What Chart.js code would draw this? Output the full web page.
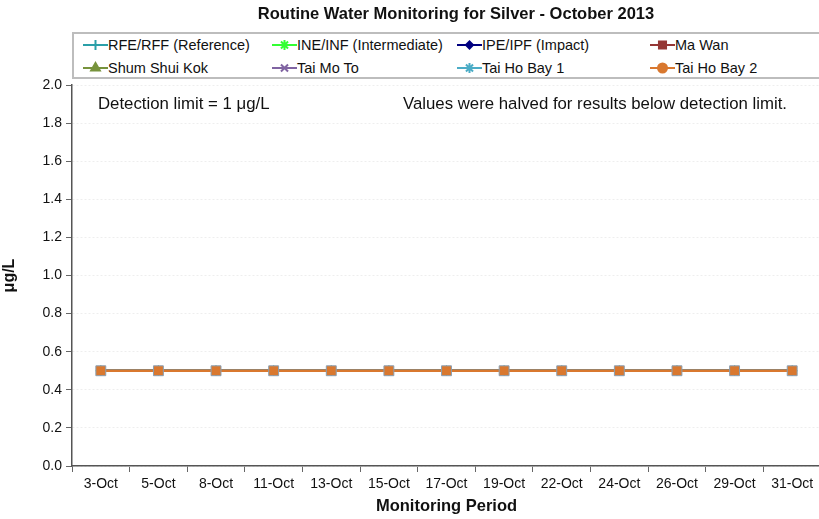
<!DOCTYPE html>
<html>
<head>
<meta charset="utf-8">
<script src="https://cdn.jsdelivr.net/npm/chart.js@4.4.0/dist/chart.umd.min.js"></script>
<style>
  html, body { margin: 0; padding: 0; background: #fff; overflow: hidden; }
  body { width: 819px; height: 519px; position: relative; font-family: "Liberation Sans", Arial, sans-serif; }
  #wrap { position: absolute; left: 0; top: 0; width: 829px; height: 519px; }
  #title { position: absolute; left: 0; width: 912px; top: 4px; text-align: center; font-weight: bold; font-size: 16.5px; color: #111; }
  #legend { position: absolute; left: 72px; top: 32px; width: 760px; height: 47px; border: 2px solid #bdbdbd; box-sizing: border-box; background: #fff; }
  .item { position: absolute; font-size: 14.5px; color: #111; white-space: nowrap; display: flex; align-items: center; }
  .note { position: absolute; top: 94px; font-size: 16.8px; color: #111; white-space: nowrap; }
</style>
</head>
<body>
<div id="wrap"><canvas id="chart" width="829" height="519"></canvas></div>
<div id="title">Routine Water Monitoring for Silver - October 2013</div>
<div id="legend"></div>
<div class="note" style="left:98px">Detection limit = 1 μg/L</div>
<div class="note" style="left:403px">Values were halved for results below detection limit.</div>
<script>
// monitoring dates
const dates = ['3-Oct', '5-Oct', '8-Oct', '11-Oct', '13-Oct', '15-Oct', '17-Oct', '19-Oct', '22-Oct', '24-Oct', '26-Oct', '29-Oct', '31-Oct'];

// silver results (ug/L), all half of detection limit
const rfeRff      = [0.5, 0.5, 0.5, 0.5, 0.5, 0.5, 0.5, 0.5, 0.5, 0.5, 0.5, 0.5, 0.5];
const ineInf      = [0.5, 0.5, 0.5, 0.5, 0.5, 0.5, 0.5, 0.5, 0.5, 0.5, 0.5, 0.5, 0.5];
const ipeIpf      = [0.5, 0.5, 0.5, 0.5, 0.5, 0.5, 0.5, 0.5, 0.5, 0.5, 0.5, 0.5, 0.5];
const maWan       = [0.5, 0.5, 0.5, 0.5, 0.5, 0.5, 0.5, 0.5, 0.5, 0.5, 0.5, 0.5, 0.5];
const shumShuiKok = [0.5, 0.5, 0.5, 0.5, 0.5, 0.5, 0.5, 0.5, 0.5, 0.5, 0.5, 0.5, 0.5];
const taiMoTo     = [0.5, 0.5, 0.5, 0.5, 0.5, 0.5, 0.5, 0.5, 0.5, 0.5, 0.5, 0.5, 0.5];
const taiHoBay1   = [0.5, 0.5, 0.5, 0.5, 0.5, 0.5, 0.5, 0.5, 0.5, 0.5, 0.5, 0.5, 0.5];
const taiHoBay2   = [0.5, 0.5, 0.5, 0.5, 0.5, 0.5, 0.5, 0.5, 0.5, 0.5, 0.5, 0.5, 0.5];

const yTicks = [0.0, 0.2, 0.4, 0.6, 0.8, 1.0, 1.2, 1.4, 1.6, 1.8, 2.0];

const series = [
  { label: 'RFE/RFF (Reference)',     data: rfeRff,      color: '#2a9fa8', style: 'cross',    r: 5 },
  { label: 'INE/INF (Intermediate)',  data: ineInf,      color: '#33ff33', style: 'star',     r: 5 },
  { label: 'IPE/IPF (Impact)',        data: ipeIpf,      color: '#000080', style: 'rectRot',  r: 3.5 },
  { label: 'Ma Wan',                  data: maWan,       color: '#953735', style: 'rect',     r: 5 },
  { label: 'Shum Shui Kok',           data: shumShuiKok, color: '#77933c', style: 'triangle', r: 5 },
  { label: 'Tai Mo To',               data: taiMoTo,     color: '#8064a2', style: 'crossRot', r: 5 },
  { label: 'Tai Ho Bay 1',            data: taiHoBay1,   color: '#4bacc6', style: 'star',     r: 5 },
  { label: 'Tai Ho Bay 2',            data: taiHoBay2,   color: '#d9782f', style: 'circle',   r: 4.5 }
];

// legend, excel style in 4 columns
const legendEl = document.getElementById('legend');
const colX = [9, 198, 383, 576];
series.forEach((s, i) => {
  const div = document.createElement('div');
  div.className = 'item';
  div.style.left = colX[i % 4] + 'px';
  div.style.top = (i < 4 ? 3 : 26) + 'px';
  const c = document.createElement('canvas');
  c.width = 25; c.height = 16;
  const g = c.getContext('2d');
  g.strokeStyle = s.color; g.lineWidth = 2;
  g.beginPath(); g.moveTo(0, 8); g.lineTo(25, 8); g.stroke();
  g.fillStyle = s.color;
  Chart.helpers.drawPoint(g, { pointStyle: s.style, radius: s.r, borderWidth: 1.5, rotation: 0 }, 12.5, 8);
  div.appendChild(c);
  const span = document.createElement('span');
  span.textContent = s.label;
  div.appendChild(span);
  legendEl.appendChild(div);
});

const last = series.length - 1;
const datasets = series.map((s, i) => ({
  label: s.label,
  data: s.data,
  order: series.length - i,
  borderColor: s.color,
  backgroundColor: s.color,
  borderWidth: 2.5,
  pointStyle: i === last ? 'rect' : s.style,
  pointRadius: i === last ? 7 : s.r,
  pointBorderColor: i === last ? '#8aa0b4' : s.color,
  pointBorderWidth: 1,
  tension: 0
}));

new Chart(document.getElementById('chart'), {
  type: 'line',
  data: { labels: dates, datasets: datasets },
  options: {
    responsive: false,
    animation: false,
    layout: { padding: { top: 85, right: 0, left: 0, bottom: 0 } },
    plugins: { legend: { display: false }, tooltip: { enabled: false } },
    scales: {
      x: {
        offset: true,
        grid: { offset: true, drawOnChartArea: false, tickLength: 6, tickColor: '#666' },
        border: { color: '#555', width: 1.5 },
        ticks: { color: '#111', font: { family: 'Liberation Sans', size: 14 }, maxRotation: 0, autoSkip: false, padding: 4 },
        title: { display: true, text: 'Monitoring Period', color: '#111', font: { family: 'Liberation Sans', size: 16.5, weight: 'bold' }, padding: { top: 0, bottom: 3 } },
        afterFit: s => { s.height = 53; }
      },
      y: {
        min: 0, max: 2,
        afterBuildTicks: s => { s.ticks = yTicks.map(v => ({ value: v })); },
        grid: { color: '#eeeeee', tickLength: 6, tickColor: '#666' },
        border: { color: '#555', width: 1.5, dash: [2, 2] },
        ticks: { color: '#111', font: { family: 'Liberation Sans', size: 14 }, padding: 4, callback: v => v.toFixed(1) },
        title: { display: true, text: 'μg/L', color: '#111', font: { family: 'Liberation Sans', size: 16, weight: 'bold' }, padding: { top: 0, bottom: 6 } },
        afterFit: s => { s.width = 72; }
      }
    }
  }
});
</script>
</body>
</html>
